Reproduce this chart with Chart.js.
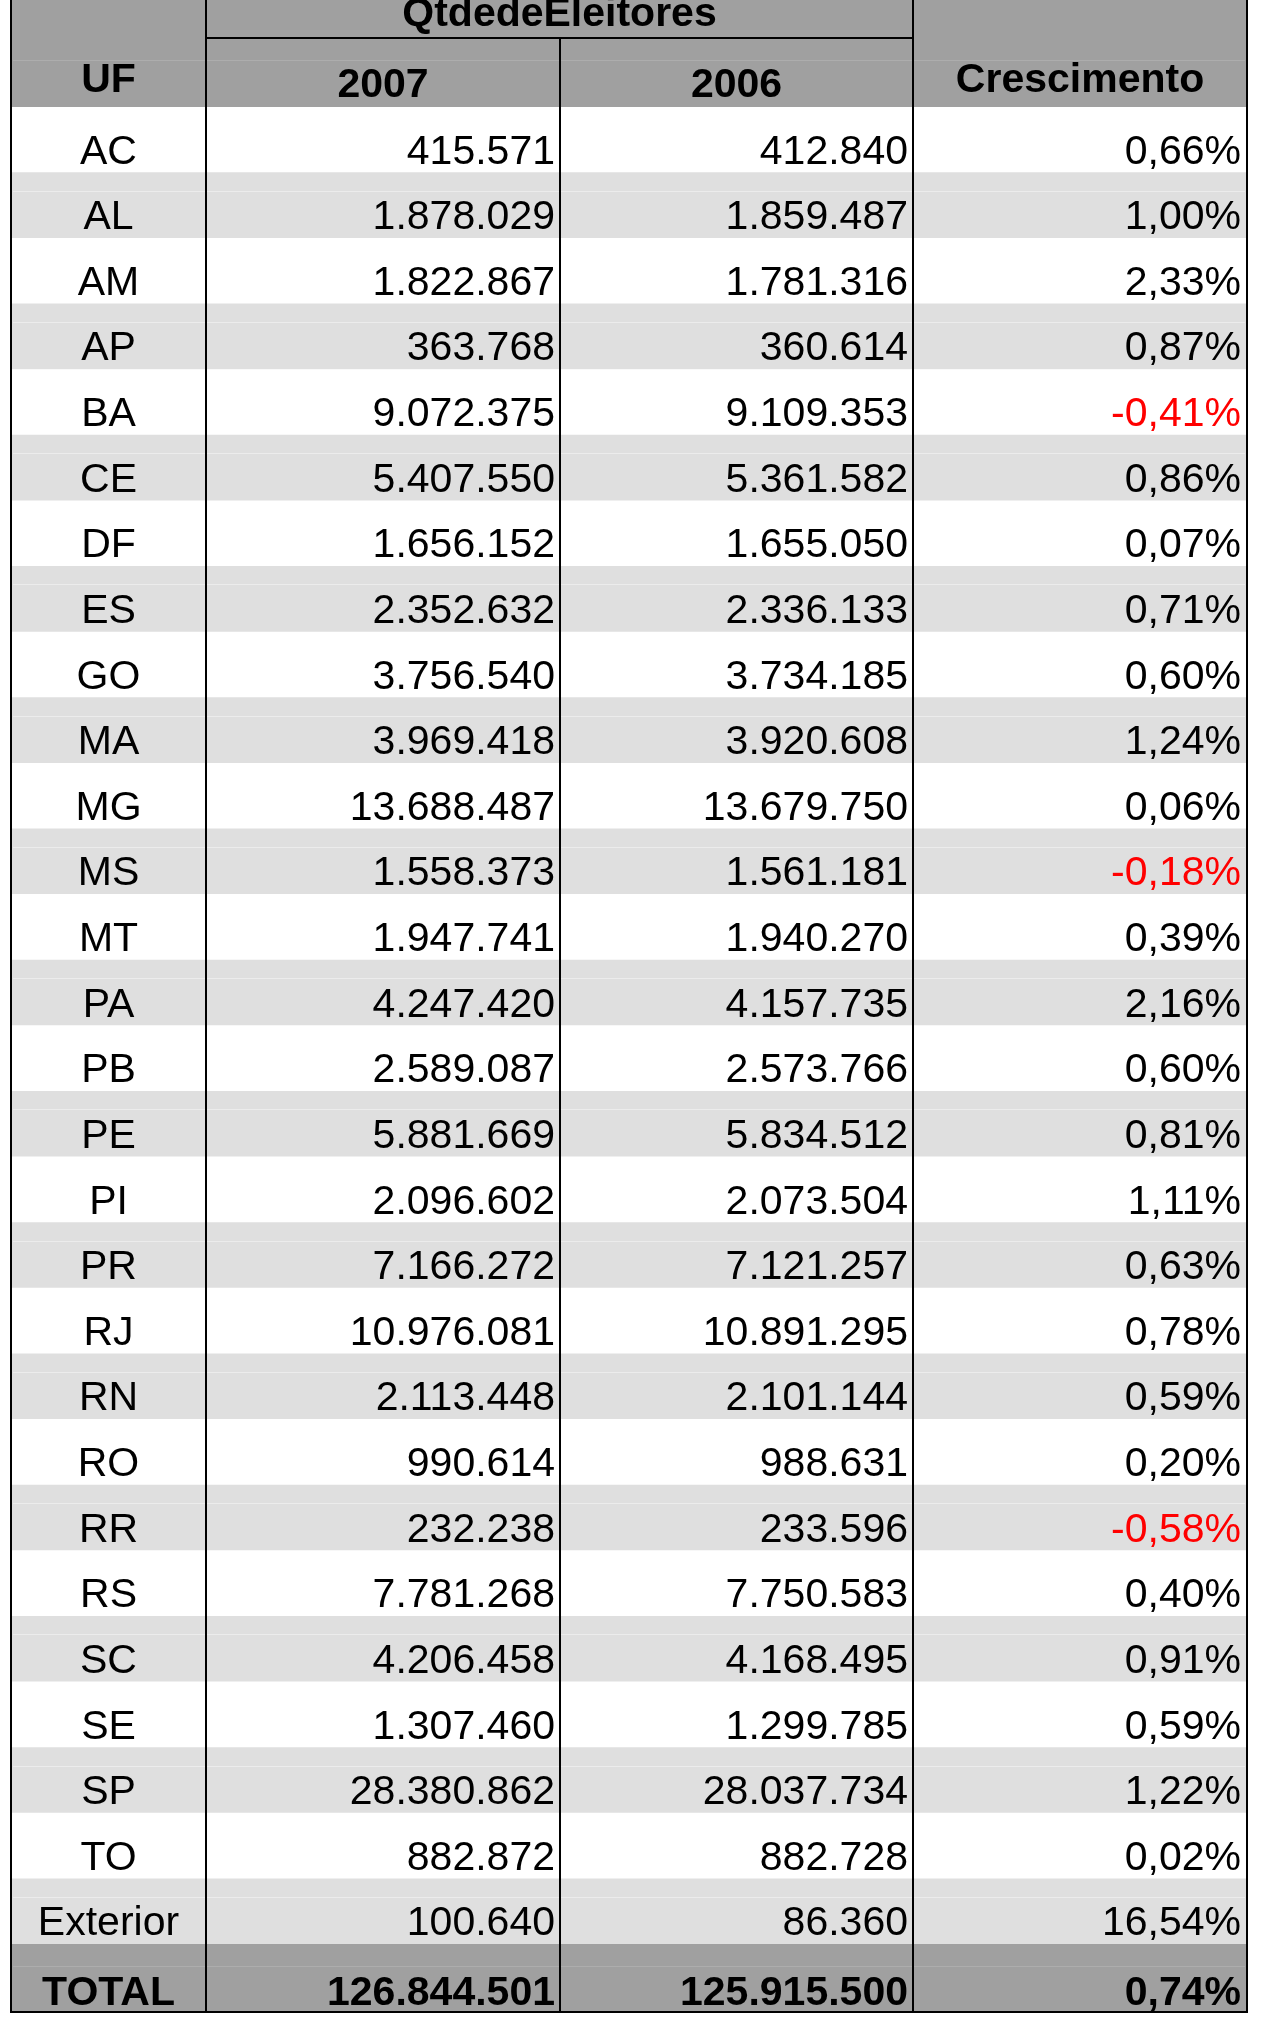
<!DOCTYPE html>
<html>
<head>
<meta charset="utf-8">
<script src="https://cdn.jsdelivr.net/npm/chart.js@4/dist/chart.umd.min.js"></script>
<style>
  html, body { margin: 0; padding: 0; background: #ffffff; }
  #wrap { width: 1267px; height: 2023px; }
</style>
</head>
<body>
<div id="wrap"><canvas id="c" width="1267" height="2023"></canvas></div>
<script>
// ---- data ----
const ufs = ['AC','AL','AM','AP','BA','CE','DF','ES','GO','MA','MG','MS','MT','PA','PB','PE','PI','PR','RJ','RN','RO','RR','RS','SC','SE','SP','TO','Exterior'];
const eleitores2007 = [415571,1878029,1822867,363768,9072375,5407550,1656152,2352632,3756540,3969418,13688487,1558373,1947741,4247420,2589087,5881669,2096602,7166272,10976081,2113448,990614,232238,7781268,4206458,1307460,28380862,882872,100640];
const eleitores2006 = [412840,1859487,1781316,360614,9109353,5361582,1655050,2336133,3734185,3920608,13679750,1561181,1940270,4157735,2573766,5834512,2073504,7121257,10891295,2101144,988631,233596,7750583,4168495,1299785,28037734,882728,86360];
const crescimento = [0.66,1.00,2.33,0.87,-0.41,0.86,0.07,0.71,0.60,1.24,0.06,-0.18,0.39,2.16,0.60,0.81,1.11,0.63,0.78,0.59,0.20,-0.58,0.40,0.91,0.59,1.22,0.02,16.54];
const totalLabel = 'TOTAL';
const total2007 = 126844501;
const total2006 = 125915500;
const totalCrescimento = 0.74;
const groupTitle = 'QtdedeEleitores';
const headers = ['UF', '2007', '2006', 'Crescimento'];

// ---- layout (not data) ----
const TABLE_W = 1236;
const colEdges = [0, 195, 549, 902, 1236];
const HEADER_BG = '#a0a0a0';
const STRIPE_BG = '#dfdfdf';
const FONT = '"Liberation Sans", Arial, sans-serif';
const FS = 41;

const rowLabels = ufs.concat([totalLabel]);
const rowColors = rowLabels.map((l, i) => i === rowLabels.length - 1 ? HEADER_BG : (i % 2 === 1 ? STRIPE_BG : '#ffffff'));

function fmtInt(n) {
  return String(n).replace(/\B(?=(\d{3})+(?!\d))/g, '.');
}
function fmtPct(v) {
  return v.toFixed(2).replace('.', ',') + '%';
}

const tablePlugin = {
  id: 'tablePlugin',
  beforeDatasetsDraw(chart) {
    const ctx = chart.ctx, x = chart.scales.x, ca = chart.chartArea;
    ctx.save();
    ctx.fillStyle = HEADER_BG;
    const l = x.getPixelForValue(colEdges[0]), r = x.getPixelForValue(colEdges[4]);
    ctx.fillRect(l, 0, r - l, ca.top);
    ctx.fillRect(l, ca.bottom - 1, r - l, 4);
    ctx.fillStyle = '#adadad';
    ctx.fillRect(l + 2, 60, r - l - 4, 1);
    ctx.restore();
  },
  afterDatasetsDraw(chart) {
    const ctx = chart.ctx, x = chart.scales.x, y = chart.scales.y, ca = chart.chartArea;
    const n = rowLabels.length;
    const rowH = (ca.bottom - ca.top) / n;
    const px = v => x.getPixelForValue(v);
    ctx.save();
    for (let i = 0; i < n; i++) {
      const top = y.getPixelForValue(i) - rowH / 2;
      if (rowColors[i] === STRIPE_BG) {
        ctx.fillStyle = '#ececec';
        ctx.fillRect(px(0) + 2, Math.round(top + 18), px(TABLE_W) - px(0) - 4, 1);
      } else if (rowColors[i] === HEADER_BG) {
        ctx.fillStyle = '#adadad';
        ctx.fillRect(px(0) + 2, Math.round(top + 22), px(TABLE_W) - px(0) - 4, 1);
      }
    }
    ctx.fillStyle = '#000000';
    ctx.font = 'bold ' + FS + 'px ' + FONT;
    ctx.textBaseline = 'alphabetic';
    ctx.textAlign = 'center';
    ctx.fillText(groupTitle, px((colEdges[1] + colEdges[3]) / 2), 26);
    ctx.fillText(headers[0], px((colEdges[0] + colEdges[1]) / 2), 92);
    ctx.fillText(headers[1], px((colEdges[1] + colEdges[2]) / 2), 97);
    ctx.fillText(headers[2], px((colEdges[2] + colEdges[3]) / 2), 97);
    ctx.fillText(headers[3], px((colEdges[3] + colEdges[4]) / 2), 92);
    for (let i = 0; i < n; i++) {
      const isTotal = i === n - 1;
      const bottom = y.getPixelForValue(i) + rowH / 2;
      const base = bottom - (isTotal ? 5 : 9);
      ctx.font = (isTotal ? 'bold ' : '') + FS + 'px ' + FONT;
      const v7 = isTotal ? total2007 : eleitores2007[i];
      const v6 = isTotal ? total2006 : eleitores2006[i];
      const g = isTotal ? totalCrescimento : crescimento[i];
      ctx.fillStyle = '#000000';
      ctx.textAlign = 'center';
      ctx.fillText(rowLabels[i], px((colEdges[0] + colEdges[1]) / 2), base);
      ctx.textAlign = 'right';
      ctx.fillText(fmtInt(v7), px(colEdges[2]) - 5, base);
      ctx.fillText(fmtInt(v6), px(colEdges[3]) - 5, base);
      ctx.fillStyle = g < 0 ? '#ff0000' : '#000000';
      ctx.fillText(fmtPct(g), px(colEdges[4]) - 6, base);
    }
    ctx.fillStyle = '#000000';
    const bottomY = ca.bottom + 3;
    colEdges.forEach((e, k) => {
      const xx = Math.round(px(e));
      const startY = (k === 2) ? 38 : 0;
      ctx.fillRect(xx - 1, startY, 2, bottomY - startY);
    });
    ctx.fillRect(px(colEdges[1]) - 1, 37, px(colEdges[3]) - px(colEdges[1]) + 2, 2);
    ctx.fillRect(px(colEdges[0]) - 1, bottomY - 2, px(colEdges[4]) - px(colEdges[0]) + 2, 2);
    ctx.restore();
  }
};

new Chart(document.getElementById('c'), {
  type: 'bar',
  data: {
    labels: rowLabels,
    datasets: [{
      data: rowLabels.map(() => [0, TABLE_W]),
      backgroundColor: rowColors,
      borderWidth: 0,
      barPercentage: 1.0,
      categoryPercentage: 1.0
    }]
  },
  options: {
    indexAxis: 'y',
    responsive: false,
    devicePixelRatio: 1,
    animation: false,
    layout: { padding: { left: 11, right: 20, top: 107, bottom: 13 } },
    plugins: { legend: { display: false }, tooltip: { enabled: false } },
    scales: {
      x: { type: 'linear', min: 0, max: TABLE_W, display: false },
      y: { type: 'category', display: false }
    }
  },
  plugins: [tablePlugin]
});
</script>
</body>
</html>
